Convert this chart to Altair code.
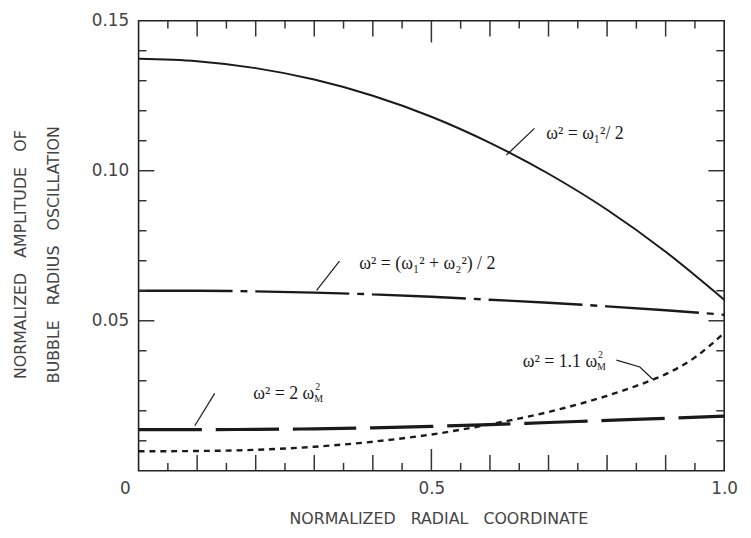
import altair as alt
import pandas as pd

# ---- data ----
r_coord = [0.0, 0.1, 0.2, 0.3, 0.4, 0.5, 0.6, 0.7, 0.8, 0.9, 1.0]
amp_half_w1 = [0.1373, 0.1365, 0.1342, 0.1304, 0.1250, 0.1180, 0.1093, 0.0990, 0.0870, 0.0730, 0.0570]
amp_mean_w12 = [0.0600, 0.0600, 0.0598, 0.0594, 0.0588, 0.0580, 0.0570, 0.0560, 0.0548, 0.0535, 0.0520]
amp_2wm = [0.0137, 0.0137, 0.0138, 0.0140, 0.0143, 0.0148, 0.0154, 0.0161, 0.0168, 0.0175, 0.0182]
r_coord_fine = [0.0, 0.1, 0.2, 0.3, 0.4, 0.5, 0.6, 0.7, 0.8, 0.85, 0.9, 0.95, 1.0]
amp_11wm = [0.0065, 0.0066, 0.0070, 0.0080, 0.0097, 0.0121, 0.0155, 0.0196, 0.0250, 0.0283, 0.0322, 0.0378, 0.0460]

x_tick_labels = [0.0, 0.5, 1.0]
y_tick_labels = [0.05, 0.10, 0.15]
x_ticks_small = [0.05, 0.15, 0.25, 0.35, 0.45, 0.55, 0.65, 0.75, 0.85, 0.95]
x_ticks_mid = [0.1, 0.2, 0.3, 0.4, 0.6, 0.7, 0.8, 0.9]
x_ticks_big = [0.5]
y_ticks_small = [0.01, 0.02, 0.03, 0.04, 0.06, 0.07, 0.08, 0.09, 0.11, 0.12, 0.13, 0.14]
y_ticks_big = [0.05, 0.10]

# left-aligned annotation texts
labels_text = ["ω² = ω₁²/ 2", "ω² =  (ω₁² + ω₂²) / 2"]
labels_u = [0.696, 0.377]
labels_v = [0.1121, 0.0690]
# annotations with ω_M : main part right-aligned at anchor, sub/superscript after it
wm_main = ["ω² = 2 ω", "ω² = 1.1 ω"]
wm_u = [0.300, 0.783]
wm_v = [0.0255, 0.0363]
wm_sub = ["M", "M"]
wm_sup = ["2", "2"]

leader_id = [1, 1, 2, 2, 3, 3, 4, 4, 4]
leader_seq = [0, 1, 0, 1, 0, 1, 0, 1, 2]
leader_u = [0.676, 0.628, 0.343, 0.304, 0.130, 0.096, 0.816, 0.856, 0.878]
leader_v = [0.1141, 0.1052, 0.0699, 0.0601, 0.0258, 0.0150, 0.0369, 0.0346, 0.0305]

W, H = 592, 455
INK = "#1a1a1a"
GREY = "#444444"
SP = "\u00a0\u00a0\u00a0"

xs = alt.Scale(domain=[0, 1], nice=False, zero=False)
ys = alt.Scale(domain=[0, 0.15], nice=False, zero=False)

x_axis = alt.Axis(
    values=x_tick_labels,
    labelExpr="datum.value == 0 ? '0' : format(datum.value, '.1f')",
    ticks=False, domain=False, grid=False,
    labelFont="DejaVu Sans", labelFontSize=17, labelColor=GREY,
    labelPadding=10, labelFlush=False,
    labelOffset={"condition": {"test": "datum.value == 0", "value": -14}, "value": 0},
    title=f"NORMALIZED{SP}RADIAL{SP}COORDINATE",
    titleFont="DejaVu Sans", titleFontSize=16, titleFontWeight="normal",
    titleColor=GREY, titleX=W / 2 + 7, titleY=48, titleBaseline="middle",
    titleAlign="center",
)
y_axis = alt.Axis(
    values=y_tick_labels, format=".2f",
    ticks=False, domain=False, grid=False,
    labelFont="DejaVu Sans", labelFontSize=17, labelColor=GREY,
    labelPadding=10,
    title=[f"NORMALIZED{SP}AMPLITUDE{SP}OF", f"BUBBLE{SP}RADIUS{SP}OSCILLATION"],
    titleFont="DejaVu Sans", titleFontSize=16, titleFontWeight="normal",
    titleColor=GREY, titleAngle=-90, titleX=-127, titleY=236,
    titleAlign="center", titleBaseline="top", titleLineHeight=33,
)

X = lambda f: alt.X(f, scale=xs, axis=x_axis)
Y = lambda f: alt.Y(f, scale=ys, axis=y_axis)


def curve(xv, values, dash, width):
    df = pd.DataFrame({"u": xv, "v": values})
    props = dict(color=INK, strokeWidth=width, interpolate="monotone")
    if dash:
        props["strokeDash"] = dash
    return alt.Chart(df).mark_line(**props).encode(x=X("u:Q"), y=Y("v:Q"))


l1 = curve(r_coord, amp_half_w1, None, 2.0)
l2 = curve(r_coord, amp_mean_w12, [95, 8, 7, 8], 2.4)
l3 = curve(r_coord, amp_2wm, [64, 14], 3.2)
l4 = curve(r_coord_fine, amp_11wm, [6, 5], 2.4)


def xtick_layer(vals, length, side):
    df = pd.DataFrame({"u": vals})
    if side == "bottom":
        yy, yy2 = alt.value(H), alt.value(H - length)
    else:
        yy, yy2 = alt.value(0), alt.value(length)
    return alt.Chart(df).mark_rule(color="#333333", strokeWidth=1.5).encode(
        x=X("u:Q"), y=yy, y2=yy2)


def ytick_layer(vals, length, side):
    df = pd.DataFrame({"v": vals})
    if side == "left":
        xx, xx2 = alt.value(0), alt.value(length)
    else:
        xx, xx2 = alt.value(W), alt.value(W - length)
    return alt.Chart(df).mark_rule(color="#333333", strokeWidth=1.5).encode(
        y=Y("v:Q"), x=xx, x2=xx2)


ticks = []
for side in ["bottom", "top"]:
    ticks.append(xtick_layer(x_ticks_small, 8, side))
    ticks.append(xtick_layer(x_ticks_mid, 16, side))
    ticks.append(xtick_layer(x_ticks_big, 22, side))
for side in ["left", "right"]:
    ticks.append(ytick_layer(y_ticks_small, 8, side))
    ticks.append(ytick_layer(y_ticks_big, 16, side))

FONT = "Liberation Serif"
lab_df = pd.DataFrame({"text": labels_text, "u": labels_u, "v": labels_v})
labels = alt.Chart(lab_df).mark_text(
    align="left", baseline="middle", font=FONT, fontSize=18, color=INK
).encode(x=X("u:Q"), y=Y("v:Q"), text="text:N")

wm_df = pd.DataFrame({"main": wm_main, "sub": wm_sub, "sup": wm_sup, "u": wm_u, "v": wm_v})
wm_main_l = alt.Chart(wm_df).mark_text(
    align="right", baseline="middle", font=FONT, fontSize=18, color=INK
).encode(x=X("u:Q"), y=Y("v:Q"), text="main:N")
wm_sub_l = alt.Chart(wm_df).mark_text(
    align="left", baseline="middle", font=FONT, fontSize=10, color=INK, dx=0, dy=5
).encode(x=X("u:Q"), y=Y("v:Q"), text="sub:N")
wm_sup_l = alt.Chart(wm_df).mark_text(
    align="left", baseline="middle", font=FONT, fontSize=10, color=INK, dx=1, dy=-7
).encode(x=X("u:Q"), y=Y("v:Q"), text="sup:N")

lead_df = pd.DataFrame({"id": leader_id, "seq": leader_seq, "u": leader_u, "v": leader_v})
leaders = alt.Chart(lead_df).mark_line(color=INK, strokeWidth=1.2).encode(
    x=X("u:Q"), y=Y("v:Q"), detail="id:N", order="seq:Q")

chart = alt.layer(l1, l2, l3, l4, labels, wm_main_l, wm_sub_l, wm_sup_l, leaders, *ticks).properties(
    width=W, height=H,
    padding={"left": 132, "top": 10, "right": 19, "bottom": 57},
    autosize="none",
    background="white",
).configure_view(stroke="#222222", strokeWidth=1.6)

chart.save("out.html", embed_options={"renderer": "svg", "actions": False})
